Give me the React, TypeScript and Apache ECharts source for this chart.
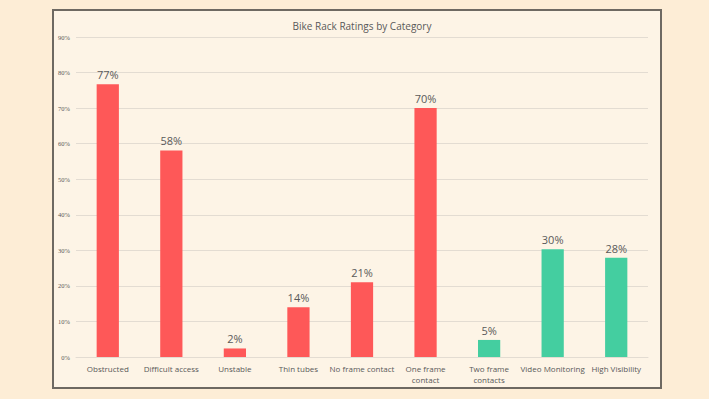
import React, { useEffect, useRef } from "react";
import * as echarts from "echarts";

const categories = [
  "Obstructed",
  "Difficult access",
  "Unstable",
  "Thin tubes",
  "No frame contact",
  "One frame\ncontact",
  "Two frame\ncontacts",
  "Video Monitoring",
  "High Visibility",
];
const values = [76.7, 58.1, 2.4, 14.0, 21.0, 70.0, 4.8, 30.3, 27.9];
const barColors = ["#fe5858", "#fe5858", "#fe5858", "#fe5858", "#fe5858", "#fe5858", "#44cea0", "#44cea0", "#44cea0"];
const yTicks = [0, 10, 20, 30, 40, 50, 60, 70, 80, 90];

export default function App() {
  const ref = useRef<HTMLDivElement>(null);
  useEffect(() => {
    document.body.style.margin = "0";
    document.body.style.background = "#fdedd6";
    const chart = echarts.init(ref.current!, null, { renderer: "svg" });
    chart.setOption({
      animation: false,
      backgroundColor: "#fdedd6",
      title: {
        text: "Bike Rack Ratings by Category",
        left: 357,
        textAlign: "center",
        top: 16,
        textStyle: { fontSize: 10, fontWeight: "normal", color: "#595959", fontFamily: "Open Sans" },
      },
      graphic: [
        {
          type: "rect",
          z: -10,
          shape: { x: 53, y: 10, width: 608, height: 378 },
          style: { fill: "#fdf4e6", stroke: "#6e6962", lineWidth: 2 },
        },
      ],
      grid: { left: 76, right: 61, top: 37, bottom: 42 },
      xAxis: {
        type: "category",
        data: categories,
        axisLine: { show: true, lineStyle: { color: "#e3dcd2" } },
        axisTick: { show: false },
        axisLabel: {
          interval: 0,
          color: "#595959",
          fontSize: 8,
          fontFamily: "Open Sans",
          lineHeight: 11,
          margin: 6,
        },
      },
      yAxis: {
        type: "value",
        min: 0,
        max: yTicks[yTicks.length - 1],
        interval: 10,
        axisLine: { show: false },
        axisTick: { show: false },
        splitLine: { lineStyle: { color: "#e3dcd2", width: 1 } },
        axisLabel: {
          formatter: (v: number) => `${v}%`,
          color: "#595959",
          fontSize: 6.5,
          fontFamily: "Liberation Serif",
          margin: 6,
        },
      },
      series: [
        {
          type: "bar",
          barWidth: "35%",
          data: values.map((v, i) => ({ value: v, itemStyle: { color: barColors[i] } })),
          label: {
            show: true,
            position: "top",
            distance: 4,
            formatter: (p: any) => `${Math.round(p.value)}%`,
            color: "#595959",
            fontSize: 11,
            fontFamily: "Open Sans",
          },
        },
      ],
    });
    return () => chart.dispose();
  }, []);
  return <div ref={ref} style={{ width: 709, height: 399 }} />;
}
